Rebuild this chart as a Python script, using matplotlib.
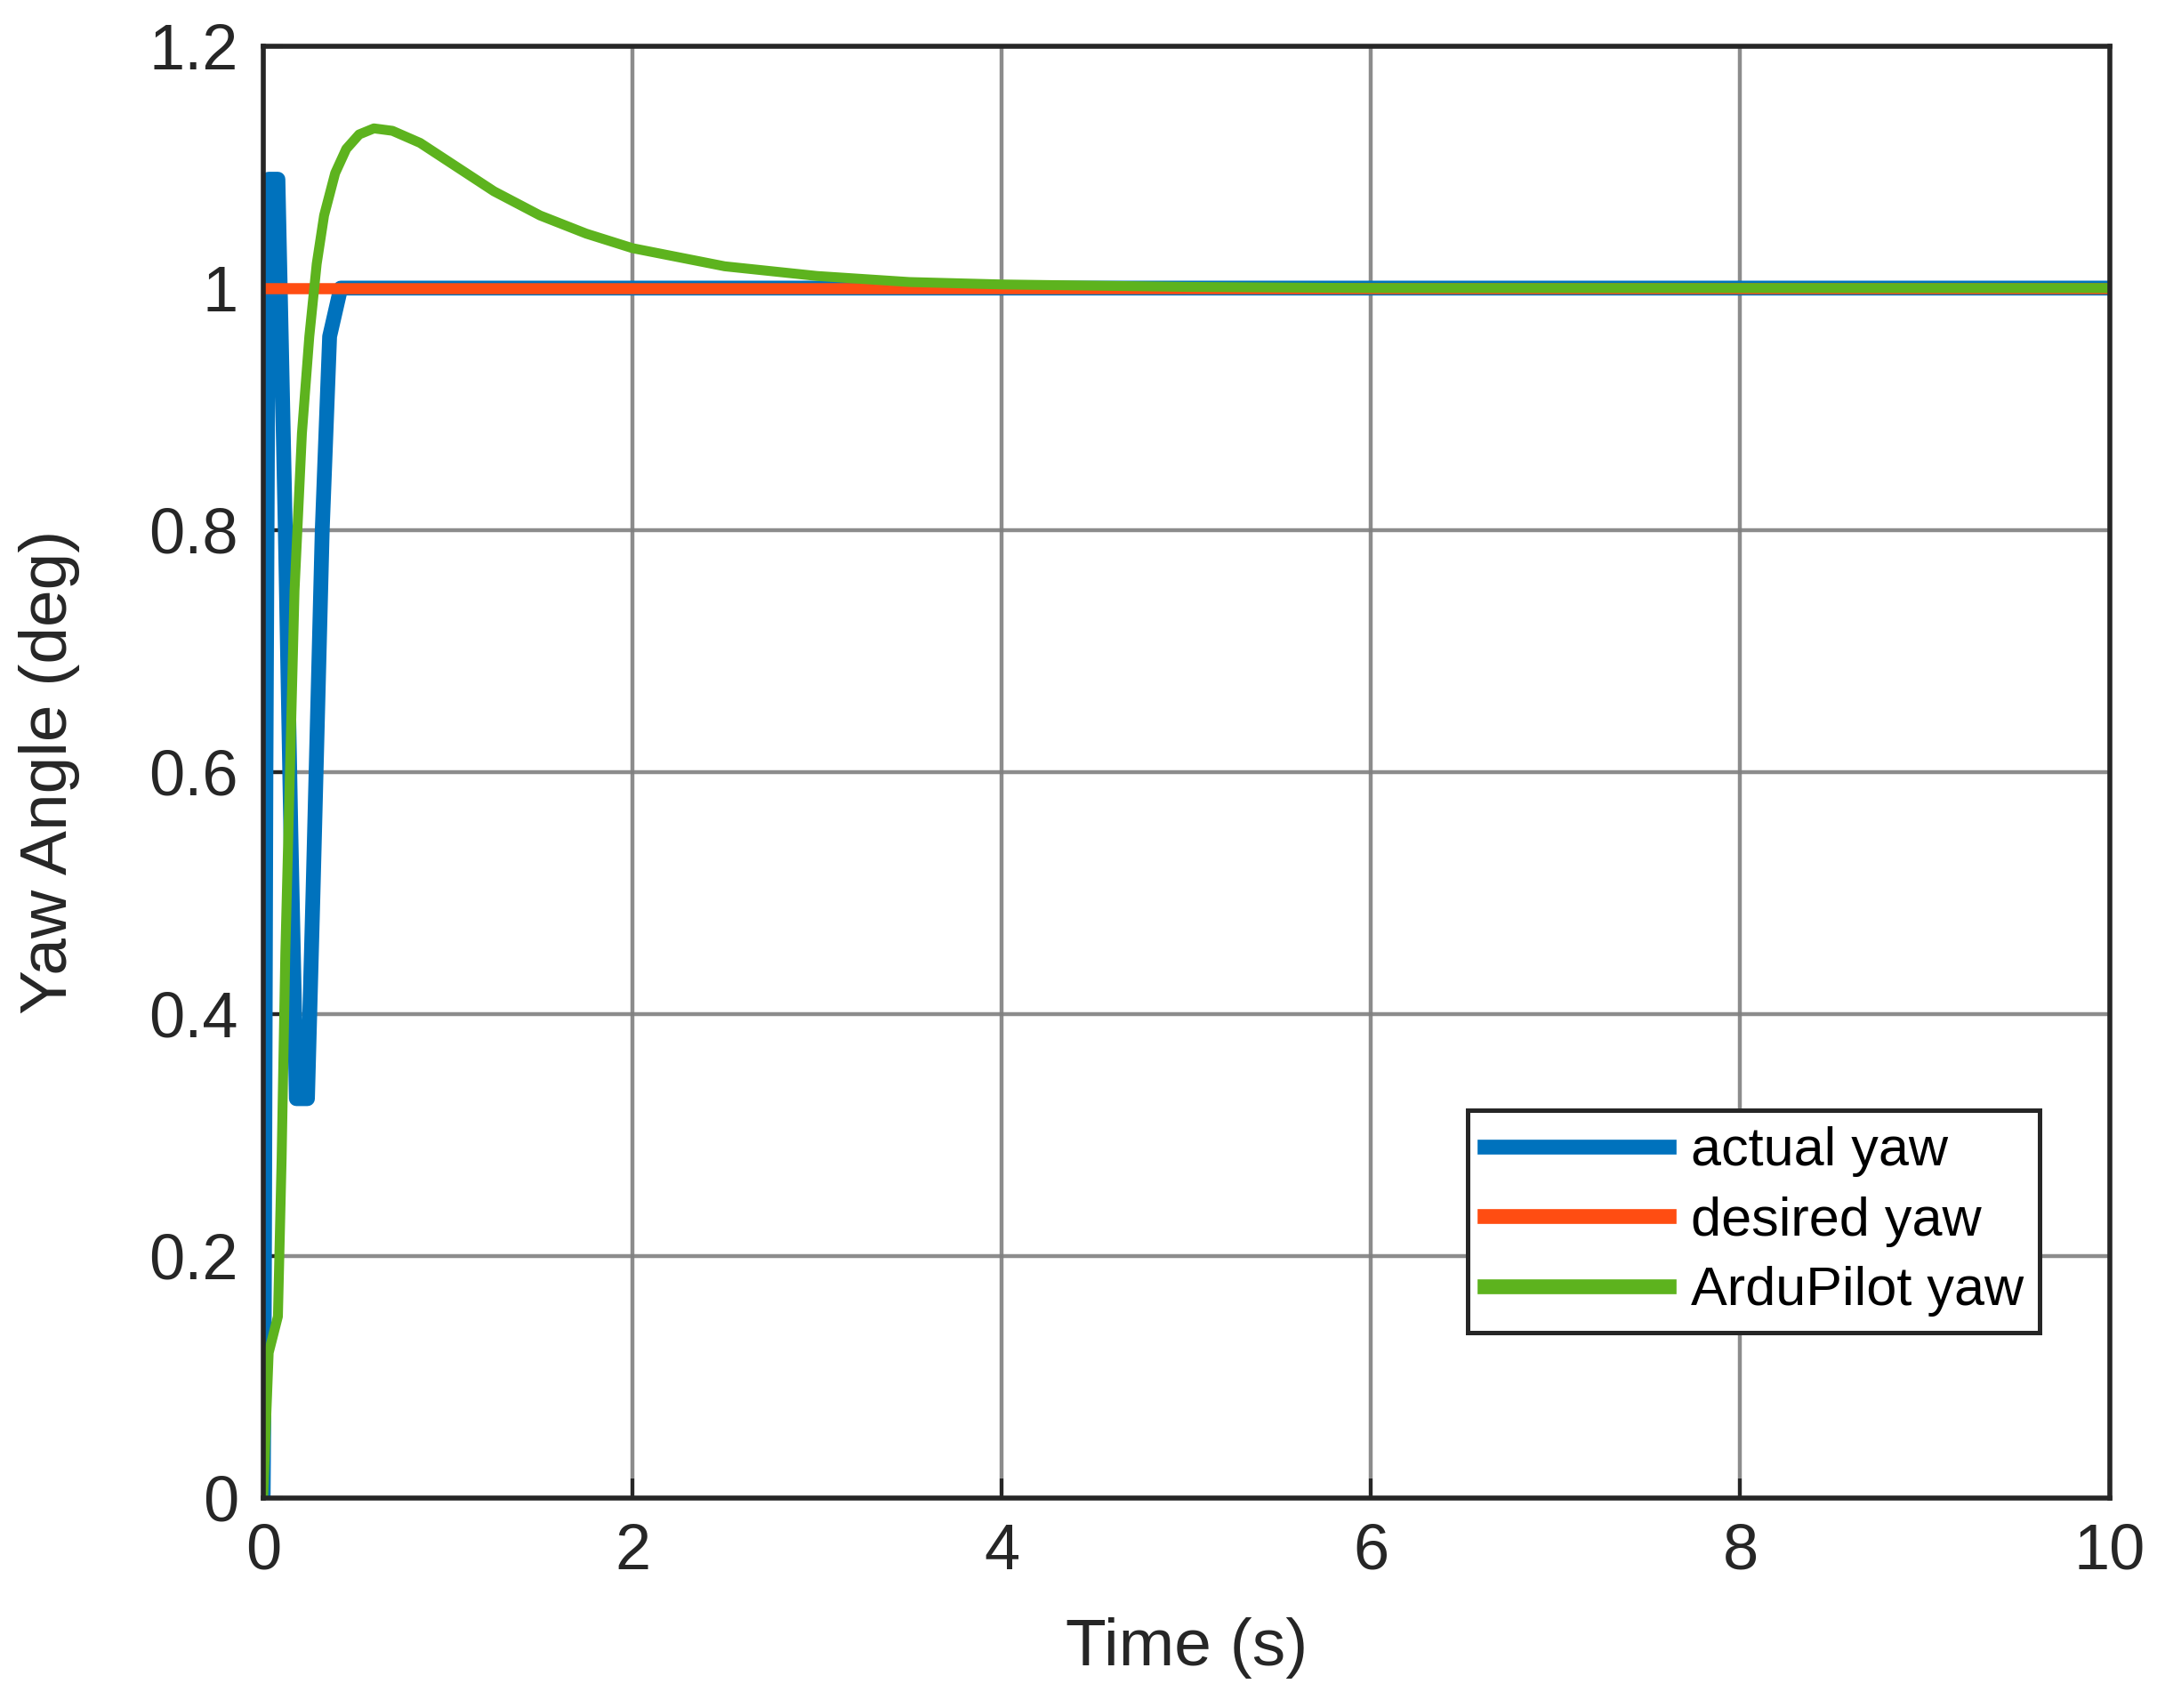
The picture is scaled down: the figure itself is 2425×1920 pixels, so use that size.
import matplotlib.pyplot as plt
import numpy as np

# values
t_actual = [0, 0.005, 0.015, 0.03, 0.08, 0.12, 0.15, 0.18, 0.24, 0.27, 0.32, 0.36, 0.42, 0.5, 10]
y_actual = [0, 0.10, 0.60, 1.09, 1.09, 0.80, 0.55, 0.33, 0.33, 0.50, 0.80, 0.96, 1.0, 1.0, 1.0]

t_desired = [0, 10]
y_desired = [1.0, 1.0]

t_ardu = [0, 0.03, 0.08, 0.10, 0.12, 0.15, 0.17, 0.21, 0.25, 0.29, 0.33, 0.39, 0.45, 0.52, 0.6, 0.7,
          0.85, 1.0, 1.25, 1.5, 1.75, 2.0, 2.5, 3.0, 3.5, 4.0, 5.0, 6.0, 10.0]
y_ardu = [0, 0.12, 0.15, 0.28, 0.45, 0.63, 0.75, 0.88, 0.96, 1.02, 1.06, 1.095, 1.115, 1.127, 1.132, 1.13,
          1.12, 1.105, 1.08, 1.06, 1.045, 1.033, 1.018, 1.01, 1.005, 1.003, 1.001, 1.0, 1.0]

COLORS = {"actual": "#0072BD", "desired": "#FF4D12", "ardu": "#5DB31E"}

plt.rcParams["font.family"] = ["Liberation Sans", "DejaVu Sans"]

fig = plt.figure(figsize=(12.125, 9.6), dpi=200)
ax = fig.add_axes([0.122, 0.123, 0.856, 0.850])

ax.plot(t_actual, y_actual, color=COLORS["actual"], linewidth=6, label="actual yaw")
ax.plot(t_desired, y_desired, color=COLORS["desired"], linewidth=4.5, label="desired yaw")
ax.plot(t_ardu, y_ardu, color=COLORS["ardu"], linewidth=4.0, label="ArduPilot yaw")

ax.set_xlim(0, 10)
ax.set_ylim(0, 1.2)
ax.set_xticks(np.arange(0, 11, 2))
ax.set_yticks(np.arange(0, 1.21, 0.2))
ax.set_yticklabels(["0", "0.2", "0.4", "0.6", "0.8", "1", "1.2"])
ax.grid(True, color="#808080", linewidth=1.6, alpha=0.9)
ax.set_axisbelow(True)
ax.tick_params(axis="both", labelsize=26, colors="#262626", direction="in", length=8, width=1.5, pad=10)
for s in ax.spines.values():
    s.set_linewidth(2)
    s.set_color("#262626")
ax.set_xlabel("Time (s)", fontsize=27, color="#262626", labelpad=14)
ax.set_ylabel("Yaw Angle (deg)", fontsize=27, color="#262626", labelpad=28)

leg = ax.legend(loc="lower right", bbox_to_anchor=(0.977, 0.095), fontsize=22,
                fancybox=False, edgecolor="#262626", framealpha=1, handlelength=3.4,
                borderpad=0.3, labelspacing=0.35, handletextpad=0.4)
leg.get_frame().set_linewidth(1.8)
for line in leg.get_lines():
    line.set_linewidth(6)

fig.savefig("out.png", dpi=200)
